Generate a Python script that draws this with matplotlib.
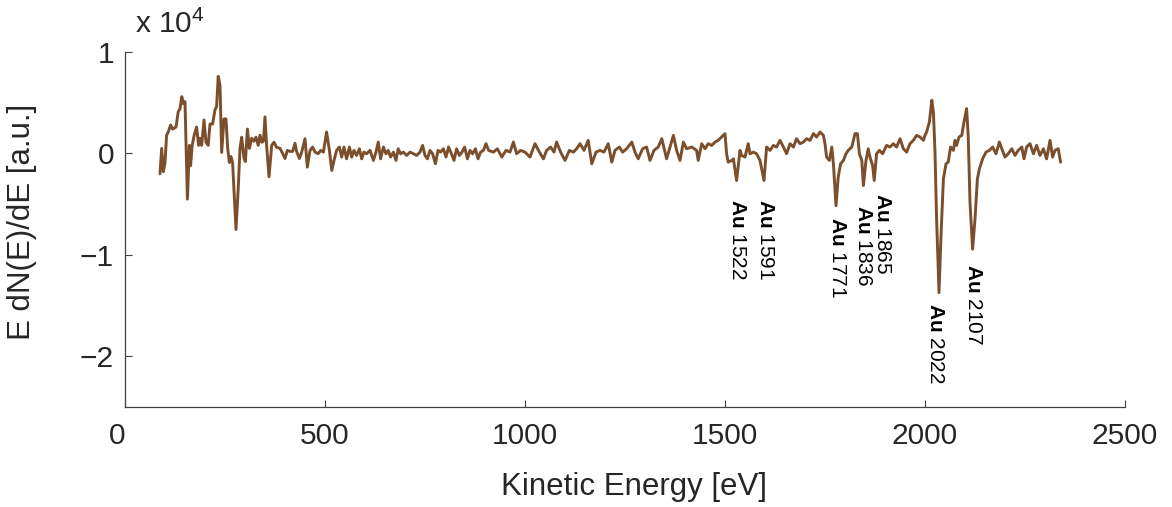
import matplotlib
matplotlib.use("Agg")
import matplotlib.pyplot as plt
import matplotlib.transforms as mtransforms
import numpy as np

plt.rcParams['font.family'] = ['Liberation Sans', 'DejaVu Sans']
plt.rcParams['mathtext.fontset'] = 'custom'
plt.rcParams['mathtext.rm'] = 'Liberation Sans'
plt.rcParams['mathtext.it'] = 'Liberation Sans:italic'
plt.rcParams['mathtext.bf'] = 'Liberation Sans:bold'

# ---- data (kinetic energy in eV, signal in units of 1e4) ----
energy_low = [87.5, 91.7, 95.8, 100, 104, 108, 114, 119, 127.5, 133, 137.5, 142, 146, 150,
              156, 161, 164, 168, 173, 179, 184, 187.5, 191.7, 197.5, 202.5, 208, 212.5,
              219, 225, 229, 233, 237.5, 241.7, 247.5, 252.5, 256.7, 261, 265, 269, 277.5,
              283, 287.5, 291.7, 297.5, 301, 306, 311, 316.7, 322.5, 327.5, 333, 337.5, 342,
              346, 350, 354, 360, 366.7, 372.5, 379, 387.5, 394, 400, 406, 412.5, 419, 425,
              429, 436]
signal_low = [-0.20, 0.05, -0.18, -0.09, 0.18, 0.21, 0.28, 0.24, 0.26, 0.41, 0.44, 0.56, 0.49, 0.51,
              -0.45, 0.08, -0.12, 0.08, 0.18, 0.26, 0.08, 0.15, 0.08, 0.33, 0.11, 0.08, 0.29,
              0.29, 0.43, 0.46, 0.76, 0.67, 0.01, 0.34, 0.34, 0.05, -0.09, -0.03, -0.09, -0.75,
              -0.35, 0.05, 0.16, -0.05, -0.08, 0.24, 0.05, 0.15, 0.12, 0.16, 0.08, 0.18, 0.11,
              0.12, 0.36, 0.08, -0.23, 0.08, 0.11, 0.06, 0.05, 0.00, -0.05, 0.03, 0.02, 0.02, 0.10,
              0.02, -0.05]

energy_mid1 = [441.7, 450, 455.8, 462.5, 469, 475, 483, 489, 496, 504, 511, 517, 522.5, 529, 536,
               541.7, 547.5, 554, 561, 566.7, 572.5, 579, 586, 591.7, 597.5, 604, 612.5, 621,
               627.5, 633, 639, 646, 652.5, 658, 664, 671, 677.5, 683, 689, 696, 704, 712.5,
               721, 729, 737.5, 744, 750, 756, 762.5, 769, 776, 782.5, 789, 796, 802.5, 809,
               816, 822.5, 829, 836, 842.5, 849, 856, 862.5, 869, 876, 882.5, 889, 896, 902.5,
               909]
signal_mid1 = [0.013, 0.145, -0.135, 0.03, 0.063, 0.013, -0.003, 0.03, 0.013, 0.211, 0.03, -0.168,
               -0.069, 0.03, 0.063, -0.036, 0.063, -0.053, 0.063, -0.036, 0.03, -0.02, 0.046,
               -0.053, 0.013, -0.003, 0.03, -0.069, 0.013, 0.112, -0.053, 0.063, -0.003, 0.03,
               -0.036, 0.013, -0.069, 0.046, -0.003, 0.013, -0.02, 0.013, -0.003, -0.02, 0.013,
               0.079, -0.02, -0.053, 0.03, -0.003, -0.102, 0.03, 0.013, 0.046, -0.036, 0.063,
               -0.003, -0.069, 0.046, -0.02, 0.013, 0.063, -0.053, 0.03, -0.003, 0.046, -0.053,
               0.013, 0.03, 0.096, 0.03]

energy_mid2 = [921, 931, 942, 952.5, 962.5, 971, 979, 989, 1000, 1012.5, 1025, 1036, 1046, 1054,
               1064, 1072.5, 1079, 1089, 1100, 1111, 1121, 1129, 1137.5, 1147.5, 1158, 1167,
               1177.5, 1187.5, 1197.5, 1208, 1217, 1225, 1236, 1244, 1254, 1267, 1275, 1283,
               1294, 1304, 1312.5, 1322.5, 1333, 1342, 1354, 1362.5, 1371, 1379, 1387.5, 1396,
               1404, 1417, 1429]
signal_mid2 = [0.013, 0.046, -0.036, 0.03, 0.013, 0.112, -0.003, 0.03, 0.013, -0.036, 0.096, 0.013,
               -0.053, 0.03, 0.063, 0.013, 0.112, 0.013, -0.069, 0.03, 0.013, 0.046, 0.096, 0.03,
               0.129, -0.102, 0.013, 0.03, 0.013, 0.096, -0.086, 0.03, 0.063, 0.013, 0.046, 0.112,
               0.013, -0.053, 0.046, 0.063, -0.069, 0.03, 0.063, 0.145, -0.053, 0.063, 0.178,
               0.03, -0.069, 0.112, 0.046, 0.063, 0.03]

energy_high1 = [1433, 1441.7, 1450, 1458, 1466.7, 1475, 1483, 1491.7, 1500, 1504, 1508, 1517, 1521,
                1529, 1537.5, 1541.7, 1550, 1558, 1562.5, 1571, 1579, 1587.5, 1597.5, 1604,
                1612.5, 1621, 1629, 1637.5, 1646, 1654, 1662.5, 1671, 1679, 1687.5, 1696, 1704,
                1712.5, 1721, 1729, 1737.5, 1746, 1750, 1754, 1761, 1767, 1771, 1777.5, 1783,
                1789, 1796, 1802.5, 1808, 1817, 1825, 1831, 1836, 1842, 1846, 1852.5, 1858,
                1862.5, 1869, 1873, 1879, 1886, 1894, 1904, 1912.5]
signal_high1 = [-0.069, 0.096, 0.046, 0.096, 0.079, 0.112, 0.129, 0.162, 0.195, -0.003, -0.086,
                -0.069, -0.053, -0.267, 0.03, -0.02, -0.036, 0.096, -0.003, 0.013, -0.003, -0.069,
                -0.267, 0.063, 0.03, 0.079, 0.063, 0.129, 0.063, -0.003, 0.096, 0.063, 0.145,
                0.096, 0.112, 0.145, 0.129, 0.195, 0.162, 0.211, 0.179, 0.096, -0.036, -0.069,
                0.063, -0.102, -0.515, -0.234, -0.102, -0.069, -0.003, 0.03, 0.063, 0.195, 0.195,
                -0.003, -0.069, -0.317, -0.069, 0.046, -0.036, -0.119, -0.267, -0.003, 0.03,
                -0.003, 0.079, 0.063]

energy_high2 = [1921, 1929, 1937.5, 1946, 1954, 1962.5, 1971, 1979, 1987.5, 1996, 2000, 2004, 2011,
                2017, 2021, 2025, 2029, 2035, 2040, 2046, 2052.5, 2058, 2064, 2071, 2075, 2079,
                2085, 2092, 2097.5, 2104, 2108, 2112.5, 2119, 2125, 2131, 2136, 2144, 2152.5,
                2161, 2169, 2177.5, 2186, 2192, 2200, 2208, 2217, 2225, 2233, 2242, 2247.5, 2254,
                2262.5, 2271, 2279, 2287.5, 2296, 2304, 2312.5, 2319, 2325, 2333, 2339]
signal_high2 = [0.096, 0.063, 0.145, 0.046, 0.013, 0.096, 0.129, 0.178, 0.162, 0.129, 0.178, 0.211,
                0.31, 0.525, 0.409, 0.013, -0.647, -1.373, -0.812, -0.251, -0.102, -0.086, 0.063,
                0.03, 0.129, 0.079, 0.162, 0.178, 0.31, 0.442, 0.178, -0.482, -0.944, -0.647,
                -0.251, -0.152, -0.053, 0.013, 0.03, 0.063, -0.003, 0.112, 0.046, -0.036, -0.003,
                0.046, -0.02, 0.03, 0.063, -0.053, 0.063, 0.096, -0.003, 0.079, -0.02, 0.046,
                -0.053, 0.129, -0.036, 0.03, 0.046, -0.086]

peak_labels = ["1522", "1591", "1771", "1836", "1865", "2022", "2107"]
label_x = [1530, 1602, 1780, 1846, 1893, 2025, 2122]
label_y = [-0.45, -0.45, -0.63, -0.51, -0.39, -1.47, -1.09]

xticks = [0, 500, 1000, 1500, 2000, 2500]
yticks = [-2, -1, 0, 1]

energy = np.array(energy_low + energy_mid1 + energy_mid2 + energy_high1 + energy_high2)
signal = np.array(signal_low + signal_mid1 + signal_mid2 + signal_high1 + signal_high2)

# ---- figure ----
W, H = 1172, 507
fig = plt.figure(figsize=(W / 100, H / 100), dpi=100)
ax = fig.add_axes([125 / W, 1 - 407 / H, 1000 / W, 355 / H])

line_color = '#7B4E2C'
txt_color = '#262626'
ax.plot(energy, signal, color=line_color, lw=2.1, solid_joinstyle='round',
        solid_capstyle='round')

ax.set_xlim(0, 2500)
ax.set_ylim(-2.5, 1)
ax.set_xticks(xticks)
ax.set_yticks(yticks)
for s in ['top', 'right']:
    ax.spines[s].set_visible(False)
for s in ['left', 'bottom']:
    ax.spines[s].set_color('#404040')
    ax.spines[s].set_linewidth(0.9)
ax.tick_params(direction='in', length=5, width=0.8, colors='#404040', labelsize=21.5,
               labelcolor=txt_color)
ax.tick_params(axis='x', pad=11)
ax.tick_params(axis='y', pad=8)

# the "0" label at the origin sits slightly left of its tick
fig.canvas.draw()
first = ax.get_xticklabels()[0]
first.set_transform(first.get_transform() +
                    mtransforms.ScaledTranslation(-8 / 100, 0, fig.dpi_scale_trans))

for lab, x, y in zip(peak_labels, label_x, label_y):
    ax.text(x, y, r"$\mathbf{Au}$ " + lab, rotation=-90, ha='center', va='top',
            fontsize=15, color='black')

fig.text(22 / W, 1 - 222 / H, "E dN(E)/dE [a.u.]", rotation=90, ha='center', va='center',
         fontsize=22.5, color=txt_color)
fig.text(634 / W, 1 - 495 / H, "Kinetic Energy [eV]", ha='center', va='baseline',
         fontsize=22.5, color=txt_color)
fig.text(135 / W, 1 - 33 / H, r"x 10$^4$", ha='left', va='baseline',
         fontsize=21.5, color=txt_color)

fig.savefig("out.png", dpi=100)
